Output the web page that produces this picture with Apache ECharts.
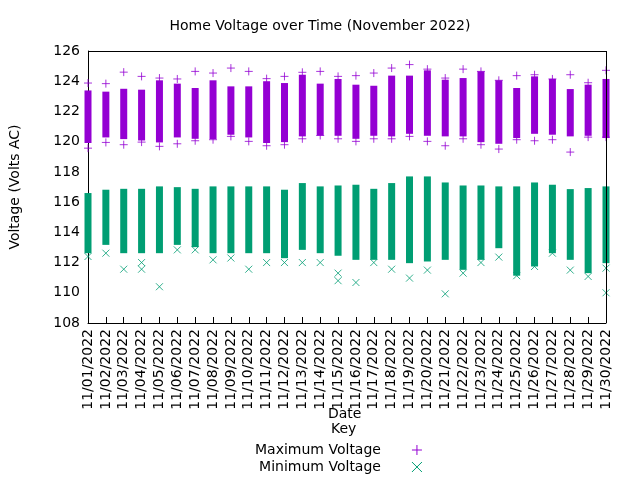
<!DOCTYPE html>
<html lang="en">
<head>
<meta charset="UTF-8">
<title>Home Voltage</title>
<script src="https://cdn.jsdelivr.net/npm/echarts@6/dist/echarts.min.js"></script>
</head>
<body style="margin:0">
<div id="main" style="width:640px;height:480px;"></div>
<script type="text/javascript">
// dates
var days = [];
for (var d = 1; d <= 30; d++) days.push('11/' + (d < 10 ? '0' + d : d) + '/2022');

// dense range of daily max readings (low, high) and extreme points
var maxLow  = [119.91,120.28,120.17,120.08,119.95,120.28,120.19,120.17,120.46,120.28,119.91,119.97,120.35,120.41,120.39,
               120.19,120.39,120.35,120.52,120.39,120.35,120.35,119.97,119.86,120.24,120.52,120.46,120.35,120.39,120.24];
var maxHigh = [123.39,123.31,123.5,123.44,124.06,123.84,123.55,124.06,123.66,123.66,124.0,123.88,124.43,123.84,124.15,
               123.77,123.7,124.37,124.37,124.72,124.1,124.21,124.65,124.06,123.55,124.32,124.15,123.48,123.77,124.15];
var maxTop  = [123.88,123.84,124.6,124.32,124.21,124.15,124.65,124.54,124.87,124.65,124.17,124.32,124.59,124.65,124.32,
               124.37,124.54,124.87,125.1,124.8,124.21,124.8,124.65,124.06,124.37,124.43,124.15,124.43,123.9,124.72];
var maxBot  = [119.57,119.95,119.8,119.97,119.69,119.86,120.06,120.13,120.35,120.02,119.73,119.8,120.19,120.41,120.19,
               120.02,120.19,120.19,120.35,120.02,119.73,120.19,119.8,119.51,120.13,120.06,120.13,119.31,120.3,120.3];

// dense range of daily min readings and lowest outliers
var minLow  = [112.62,113.17,112.62,112.62,112.62,113.17,113.02,112.62,112.62,112.62,112.62,112.29,112.84,112.62,112.45,
               112.18,112.18,112.18,111.96,112.07,112.18,111.52,112.18,112.95,111.13,111.74,112.62,112.18,111.3,111.96];
var minHigh = [116.6,116.82,116.88,116.88,117.04,116.99,116.88,117.04,117.04,117.04,117.04,116.82,117.26,117.04,117.1,
               117.15,116.88,117.26,117.7,117.7,117.3,117.1,117.1,117.04,117.04,117.3,117.15,116.86,116.93,117.04];
var minOut  = [112.4,112.62,111.56,111.56,110.4,112.84,112.84,112.18,112.3,111.56,112.0,112.0,112.0,112.0,110.8,
               110.68,112.0,111.56,110.97,111.5,109.93,111.3,112.0,112.36,111.13,111.74,112.62,111.5,111.08,110.0];
var minOut2 = [null,null,null,112.0,null,null,null,null,null,null,null,null,null,null,111.3,
               null,null,null,null,null,null,null,null,null,null,null,null,null,null,111.63];

var purple = '#9400d3', green = '#009e73';

function rangeData(lo, hi) {
    return lo.map(function (v, i) { return [i, v, hi[i]]; });
}
function pts(arr) {
    var out = [];
    arr.forEach(function (v, i) { if (v != null) out.push([i, v]); });
    return out;
}
function bars(color) {
    return function (params, api) {
        var a = api.coord([api.value(0), api.value(1)]);
        var b = api.coord([api.value(0), api.value(2)]);
        return {
            type: 'rect',
            shape: { x: a[0] - 3.5, y: b[1], width: 7, height: a[1] - b[1] },
            style: { fill: color }
        };
    };
}
var plusSym = 'path://M0,5L10,5M5,0L5,10';
var crossSym = 'path://M0,0L10,10M10,0L0,10';

var myChart = echarts.init(document.getElementById('main'));
myChart.setOption({
    animation: false,
    textStyle: { fontFamily: 'DejaVu Sans' },
    title: {
        text: 'Home Voltage over Time (November 2022)',
        left: 'center', top: 14,
        textStyle: { fontSize: 14, fontWeight: 'normal', color: '#000' }
    },
    legend: {
        orient: 'vertical', left: 250, top: 438, align: 'right',
        itemGap: 3, itemWidth: 10, itemHeight: 10,
        textStyle: { fontSize: 14, color: '#000', padding: [0, 26, 0, 0] },
        data: [
            { name: 'Maximum Voltage', icon: plusSym, itemStyle: { color: 'transparent', borderColor: purple, borderWidth: 1 } },
            { name: 'Minimum Voltage', icon: crossSym, itemStyle: { color: 'transparent', borderColor: green, borderWidth: 1 } }
        ]
    },
    graphic: [
        { type: 'text', left: 328, top: 407, style: { text: 'Date', fontSize: 14, fill: '#000', fontFamily: 'DejaVu Sans' } },
        { type: 'text', left: 331, top: 422, style: { text: 'Key', fontSize: 14, fill: '#000', fontFamily: 'DejaVu Sans' } }
    ],
    grid: { left: 88, right: 34, top: 51, bottom: 157 },
    xAxis: {
        type: 'category', data: days, boundaryGap: false,
        axisLine: { lineStyle: { color: '#000' } },
        axisTick: { inside: true, length: 6, lineStyle: { color: '#000' } },
        axisLabel: { rotate: 90, fontSize: 14, color: '#000', interval: 0, margin: 6 }
    },
    yAxis: {
        type: 'value', min: 108, max: 126, interval: 2,
        name: 'Voltage (Volts AC)', nameLocation: 'middle', nameGap: 66,
        nameTextStyle: { fontSize: 14, color: '#000' },
        axisLine: { show: true, lineStyle: { color: '#000' } },
        axisTick: { inside: true, length: 6, lineStyle: { color: '#000' } },
        axisLabel: { fontSize: 14, color: '#000' },
        splitLine: { show: false }
    },
    series: [
        { name: 'Maximum Voltage', type: 'custom', renderItem: bars(purple), data: rangeData(maxLow, maxHigh), encode: { x: 0, y: [1, 2] } },
        { name: 'Maximum Voltage', type: 'scatter', symbol: plusSym, symbolSize: 8,
          itemStyle: { color: 'transparent', borderColor: purple, borderWidth: 1 },
          data: pts(maxTop).concat(pts(maxBot)) },
        { name: 'Minimum Voltage', type: 'custom', renderItem: bars(green), data: rangeData(minLow, minHigh), encode: { x: 0, y: [1, 2] } },
        { name: 'Minimum Voltage', type: 'scatter', symbol: crossSym, symbolSize: 7,
          itemStyle: { color: 'transparent', borderColor: green, borderWidth: 1 },
          data: pts(minOut).concat(pts(minOut2)) },
        // box border on top/right
        { type: 'line', data: [], markLine: { silent: true, symbol: 'none', label: { show: false },
            lineStyle: { color: '#000', type: 'solid', width: 1 },
            data: [[{ coord: [0, 126] }, { coord: [29, 126] }], [{ coord: [29, 108] }, { coord: [29, 126] }]] } }
    ]
});
</script>
</body>
</html>
